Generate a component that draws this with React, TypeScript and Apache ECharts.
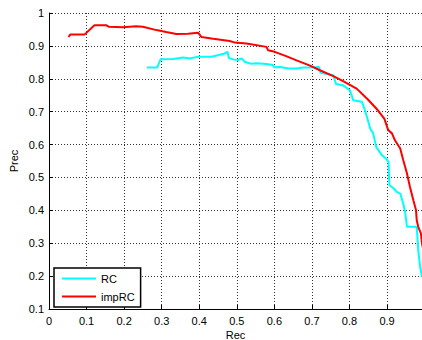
import React, { useEffect, useRef } from "react";
import * as echarts from "echarts";

const rcRec = [0.261, 0.288, 0.297, 0.330, 0.357, 0.375, 0.397, 0.433, 0.468, 0.475, 0.479, 0.490, 0.503, 0.513, 0.521, 0.537, 0.553, 0.579, 0.591, 0.595, 0.600, 0.615, 0.635, 0.659, 0.677, 0.697, 0.719, 0.723, 0.757, 0.764, 0.783, 0.801, 0.810, 0.833, 0.841, 0.849, 0.855, 0.863, 0.871, 0.886, 0.899, 0.904, 0.906, 0.917, 0.926, 0.935, 0.943, 0.948, 0.953, 0.979, 0.983, 0.988, 0.993];
const rcPrec = [0.834, 0.834, 0.859, 0.860, 0.865, 0.862, 0.867, 0.867, 0.877, 0.882, 0.863, 0.859, 0.857, 0.862, 0.852, 0.846, 0.847, 0.845, 0.843, 0.842, 0.835, 0.836, 0.832, 0.831, 0.834, 0.834, 0.836, 0.818, 0.811, 0.784, 0.780, 0.765, 0.735, 0.730, 0.705, 0.674, 0.649, 0.634, 0.593, 0.568, 0.555, 0.547, 0.477, 0.467, 0.456, 0.451, 0.421, 0.395, 0.350, 0.350, 0.279, 0.228, 0.198];

const impRec = [0.052, 0.057, 0.095, 0.121, 0.152, 0.160, 0.197, 0.232, 0.250, 0.286, 0.312, 0.339, 0.370, 0.397, 0.406, 0.437, 0.481, 0.495, 0.526, 0.579, 0.583, 0.601, 0.633, 0.659, 0.695, 0.721, 0.757, 0.783, 0.819, 0.849, 0.875, 0.893, 0.903, 0.913, 0.921, 0.935, 0.943, 0.953, 0.961, 0.970, 0.977, 0.979, 0.983, 0.990, 0.993, 1.0];
const impPrec = [0.927, 0.935, 0.935, 0.963, 0.963, 0.958, 0.957, 0.960, 0.958, 0.948, 0.942, 0.936, 0.937, 0.940, 0.927, 0.922, 0.915, 0.910, 0.907, 0.897, 0.887, 0.882, 0.868, 0.856, 0.840, 0.826, 0.808, 0.793, 0.770, 0.737, 0.705, 0.678, 0.644, 0.634, 0.613, 0.588, 0.553, 0.512, 0.471, 0.431, 0.401, 0.370, 0.350, 0.330, 0.299, 0.26];

const seriesNames = ["RC", "impRC"];
const xName = "Rec";
const yName = "Prec";

const FONT = "'Liberation Sans', Arial, sans-serif";

export default function App() {
  const ref = useRef<HTMLDivElement>(null);
  useEffect(() => {
    document.body.style.margin = "0";
    const chart = echarts.init(ref.current!, null, { renderer: "svg" });
    const grid = { color: "#333", type: [1, 2] as any, width: 1 };
    chart.setOption({
      animation: false,
      backgroundColor: "#fff",
      grid: { left: 49, top: 13, right: 0, bottom: 31, containLabel: false, outerBoundsMode: "none" },
      xAxis: {
        type: "value",
        min: 0,
        max: 0.993,
        interval: 0.1,
        name: xName,
        nameLocation: "middle",
        nameGap: 20,
        nameMoveOverlap: false,
        nameTextStyle: { fontFamily: FONT, fontSize: 11, color: "#000", lineHeight: 11 },
        axisLine: { show: true, lineStyle: { color: "#000", width: 1 } },
        axisTick: { show: true, inside: true, length: 4, lineStyle: { color: "#000" } },
        axisLabel: {
          fontFamily: FONT,
          fontSize: 11,
          color: "#000",
          margin: 6,
          formatter: (v: number) => {
            const r = Math.round(v * 10) / 10;
            if (Math.abs(r - v) > 1e-6) return "";
            return r === 0 ? "0" : String(r);
          },
        },
        splitLine: { show: true, lineStyle: grid },
      },
      yAxis: {
        type: "value",
        min: 0.1,
        max: 1,
        interval: 0.1,
        name: yName,
        nameLocation: "middle",
        nameGap: 30,
        nameMoveOverlap: false,
        nameTextStyle: { fontFamily: FONT, fontSize: 11, color: "#000" },
        axisLine: { show: true, lineStyle: { color: "#000", width: 1 } },
        axisTick: { show: true, inside: true, length: 4, lineStyle: { color: "#000" } },
        axisLabel: {
          fontFamily: FONT,
          fontSize: 11,
          color: "#000",
          margin: 5,
          formatter: (v: number) => {
            const r = Math.round(v * 10) / 10;
            return r === 1 ? "1" : String(r);
          },
        },
        splitLine: { show: true, lineStyle: grid },
      },
      legend: {
        show: true,
        left: 54,
        top: 268,
        orient: "vertical",
        backgroundColor: "#fff",
        borderColor: "#000",
        borderWidth: 1.5,
        borderRadius: 0,
        padding: [4, 6, 4, 8],
        itemGap: 5,
        itemWidth: 34,
        itemHeight: 2,
        icon: "rect",
        textStyle: { fontFamily: FONT, fontSize: 11, color: "#000", lineHeight: 13 },
        data: seriesNames,
      },
      series: [
        {
          name: seriesNames[0],
          type: "line",
          symbol: "none",
          data: rcRec.map((x, i) => [x, rcPrec[i]]),
          lineStyle: { color: "#00FFFF", width: 2 },
          itemStyle: { color: "#00FFFF" },
          z: 2,
        },
        {
          name: seriesNames[1],
          type: "line",
          symbol: "none",
          data: impRec.map((x, i) => [x, impPrec[i]]),
          lineStyle: { color: "#FF0000", width: 2 },
          itemStyle: { color: "#FF0000" },
          z: 3,
        },
      ],
    });
    return () => chart.dispose();
  }, []);
  return <div ref={ref} style={{ width: 422, height: 340 }} />;
}
